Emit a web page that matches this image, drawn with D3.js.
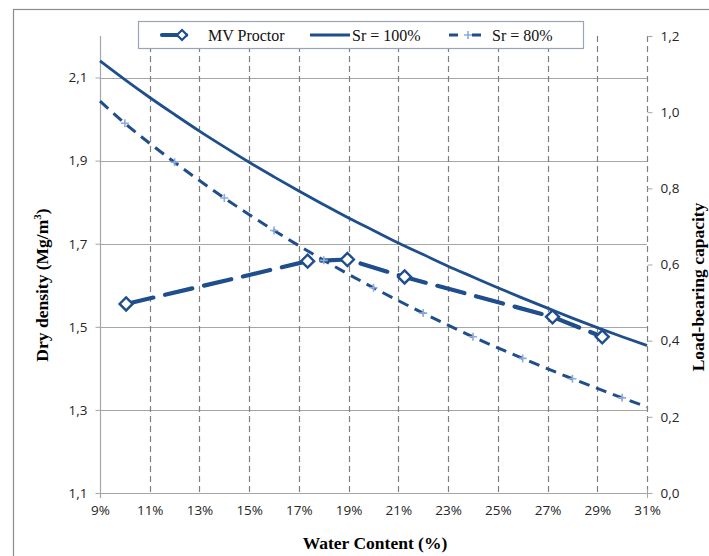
<!DOCTYPE html>
<html>
<head>
<meta charset="utf-8">
<script src="https://cdn.jsdelivr.net/npm/d3@7"></script>
<style>
  html, body { margin: 0; padding: 0; background: #fff; }
  svg { display: block; }
</style>
</head>
<body>
<svg id="chart" width="709" height="556"></svg>
<script>
// Water content (%) sample grid for the saturation curves
const satWater = [9, 10, 11, 12, 13, 14, 15, 16, 17, 18, 19, 20, 21, 22, 23, 24, 25, 26, 27, 28, 29, 30, 31];
// Dry density at full saturation (Mg/m³)
const sr100Density = [2.140, 2.095, 2.052, 2.011, 1.971, 1.933, 1.896, 1.861, 1.827, 1.794, 1.762, 1.732, 1.702, 1.674, 1.646, 1.620, 1.594, 1.569, 1.545, 1.521, 1.498, 1.476, 1.455];
// Dry density at 80 % saturation (Mg/m³)
const sr80Water = [9, 10, 12, 14, 16, 18, 20, 22, 24, 26, 28, 30, 31];
const sr80Density = [2.043, 1.990, 1.896, 1.810, 1.732, 1.660, 1.594, 1.533, 1.476, 1.424, 1.375, 1.329, 1.307];
const sr80Marked = [false, true, true, true, true, true, true, true, true, true, true, true, false];
// Proctor test points
const proctorWater = [10.05, 17.35, 18.95, 21.25, 27.2, 29.2];
const proctorDensity = [1.555, 1.658, 1.662, 1.620, 1.524, 1.476];

// Axis ticks
const xTicks = [9, 11, 13, 15, 17, 19, 21, 23, 25, 27, 29, 31];
const yLeftTicks = [1.1, 1.3, 1.5, 1.7, 1.9, 2.1];
const yRightTicks = [0, 0.2, 0.4, 0.6, 0.8, 1.0, 1.2];

const legendLabels = ["MV Proctor", "Sr = 100%", "Sr = 80%"];

const blue = "#1f4e8c";
const lightBlue = "#8eaadb";
const gridGray = "#a6a6a6";
const dashGray = "#7f7f7f";
const fmt = d3.format(".1f");
const comma = v => fmt(v).replace(".", ",");

const svg = d3.select("#chart");
const L = 100, R = 647, T = 36, B = 493;

const x = d3.scaleLinear().domain([9, 31]).range([L, R]);
const yL = d3.scaleLinear().domain([1.1, 2.2]).range([B, T]);
const yR = d3.scaleLinear().domain([0, 1.2]).range([B, T]);

// chart frame
svg.append("rect").attr("x", 13.5).attr("y", 9.5).attr("width", 720).attr("height", 560)
  .attr("fill", "none").attr("stroke", "#8c8c8c").attr("stroke-width", 1.2);

// horizontal gridlines
svg.append("g").selectAll("line").data(yLeftTicks.slice(1)).join("line")
  .attr("x1", L).attr("x2", R)
  .attr("y1", d => Math.round(yL(d)) + 0.5).attr("y2", d => Math.round(yL(d)) + 0.5)
  .attr("stroke", gridGray).attr("stroke-width", 1.2);

// vertical dashed gridlines
svg.append("g").selectAll("line").data(xTicks.slice(1)).join("line")
  .attr("x1", d => Math.round(x(d)) + 0.5).attr("x2", d => Math.round(x(d)) + 0.5)
  .attr("y1", T).attr("y2", B)
  .attr("stroke", dashGray).attr("stroke-width", 1.2).attr("stroke-dasharray", "6,4");

const tickFont = sel => sel.attr("font-family", "Open Sans").attr("font-size", 13.5).attr("fill", "#262626");

// left axis
const axL = svg.append("g").attr("transform", `translate(${L + 0.5},0)`)
  .call(d3.axisLeft(yL).tickValues(yLeftTicks).tickFormat(comma).tickSize(5).tickPadding(8));
axL.select(".domain").attr("stroke", gridGray).attr("stroke-width", 1.2).attr("d", `M0,${T}V${B + 5}`);
axL.selectAll(".tick line").attr("stroke", gridGray);
axL.selectAll("text").call(tickFont);

// right axis
const axR = svg.append("g").attr("transform", `translate(${R + 0.5},0)`)
  .call(d3.axisRight(yR).tickValues(yRightTicks).tickFormat(comma).tickSize(5).tickPadding(8));
axR.select(".domain").attr("stroke", "none");
axR.selectAll(".tick line").attr("stroke", gridGray);
axR.selectAll("text").call(tickFont);

// bottom axis
const axB = svg.append("g").attr("transform", `translate(0,${B + 0.5})`)
  .call(d3.axisBottom(x).tickValues(xTicks).tickFormat(d => d + "%").tickSize(0).tickPadding(12));
axB.select(".domain").attr("stroke", gridGray).attr("stroke-width", 1.2).attr("d", `M${L},0H${R + 5}`);
axB.selectAll("text").call(tickFont);
svg.append("line").attr("x1", R + 0.5).attr("x2", R + 0.5).attr("y1", B - 4).attr("y2", B + 5)
  .attr("stroke", gridGray);

// axis titles
svg.append("text").attr("x", 375).attr("y", 549).attr("text-anchor", "middle")
  .attr("font-family", "Liberation Serif").attr("font-weight", "bold").attr("font-size", 17.5)
  .text("Water Content (%)");

const yTitle = svg.append("text").attr("transform", "translate(48,285) rotate(-90)")
  .attr("text-anchor", "middle")
  .attr("font-family", "Liberation Serif").attr("font-weight", "bold").attr("font-size", 17.5);
yTitle.append("tspan").text("Dry density (Mg/m");
yTitle.append("tspan").attr("font-size", 11).attr("dy", -7).text("3");
yTitle.append("tspan").attr("dy", 7).text(")");

svg.append("text").attr("transform", "translate(704,287) rotate(-90)")
  .attr("text-anchor", "middle")
  .attr("font-family", "Liberation Serif").attr("font-weight", "bold").attr("font-size", 17.5)
  .text("Load-bearing capacity");

// series
const plot = svg.append("g");
const lineGen = d3.line().x(d => x(d[0])).y(d => yL(d[1])).curve(d3.curveMonotoneX);

const sr100 = satWater.map((w, i) => [w, sr100Density[i]]);
const sr80 = sr80Water.map((w, i) => [w, sr80Density[i], sr80Marked[i]]);
const proctor = proctorWater.map((w, i) => [w, proctorDensity[i]]);

plot.append("path").datum(proctor)
  .attr("d", d3.line().x(d => x(d[0])).y(d => yL(d[1])))
  .attr("fill", "none").attr("stroke", blue).attr("stroke-width", 4.2)
  .attr("stroke-dasharray", "28,12").attr("stroke-linecap", "round");

plot.append("path").datum(sr100).attr("d", lineGen)
  .attr("fill", "none").attr("stroke", blue).attr("stroke-width", 2.8);

plot.append("path").datum(sr80).attr("d", lineGen)
  .attr("fill", "none").attr("stroke", blue).attr("stroke-width", 3)
  .attr("stroke-dasharray", "11,7");

plot.append("g").selectAll("path").data(sr80.filter(d => d[2])).join("path")
  .attr("transform", d => `translate(${x(d[0])},${yL(d[1])})`)
  .attr("d", "M-4,0H4M0,-4V4")
  .attr("stroke", lightBlue).attr("stroke-width", 1.6).attr("fill", "none");

const diamond = "M0,-6.5L6.5,0L0,6.5L-6.5,0Z";
plot.append("g").selectAll("path").data(proctor).join("path")
  .attr("transform", d => `translate(${x(d[0])},${yL(d[1])})`)
  .attr("d", diamond)
  .attr("fill", "#fff").attr("stroke", blue).attr("stroke-width", 2.4);

// legend
const lg = svg.append("g");
lg.append("rect").attr("x", 138.5).attr("y", 21.5).attr("width", 445).attr("height", 27)
  .attr("fill", "#fff").attr("stroke", "#9aa3b8").attr("stroke-width", 1.2);
const ly = 35;
lg.append("line").attr("x1", 162).attr("x2", 186).attr("y1", ly).attr("y2", ly)
  .attr("stroke", blue).attr("stroke-width", 4.2).attr("stroke-linecap", "round");
lg.append("path").attr("transform", `translate(182,${ly})`).attr("d", "M0,-5L5,0L0,5L-5,0Z")
  .attr("fill", "#fff").attr("stroke", blue).attr("stroke-width", 2.2);
lg.append("line").attr("x1", 310).attr("x2", 350).attr("y1", ly).attr("y2", ly)
  .attr("stroke", blue).attr("stroke-width", 2.8);
lg.append("line").attr("x1", 449).attr("x2", 481).attr("y1", ly).attr("y2", ly)
  .attr("stroke", blue).attr("stroke-width", 3).attr("stroke-dasharray", "9,14");
lg.append("path").attr("transform", `translate(468,${ly})`).attr("d", "M-4,0H4M0,-4V4")
  .attr("stroke", lightBlue).attr("stroke-width", 1.6);
const legendX = [208, 352, 492];
lg.selectAll("text.lbl").data(legendLabels).join("text")
  .attr("x", (d, i) => legendX[i]).attr("y", ly + 5.5)
  .attr("font-family", "Liberation Serif").attr("font-size", 16).attr("fill", "#111")
  .text(d => d);
</script>
</body>
</html>
